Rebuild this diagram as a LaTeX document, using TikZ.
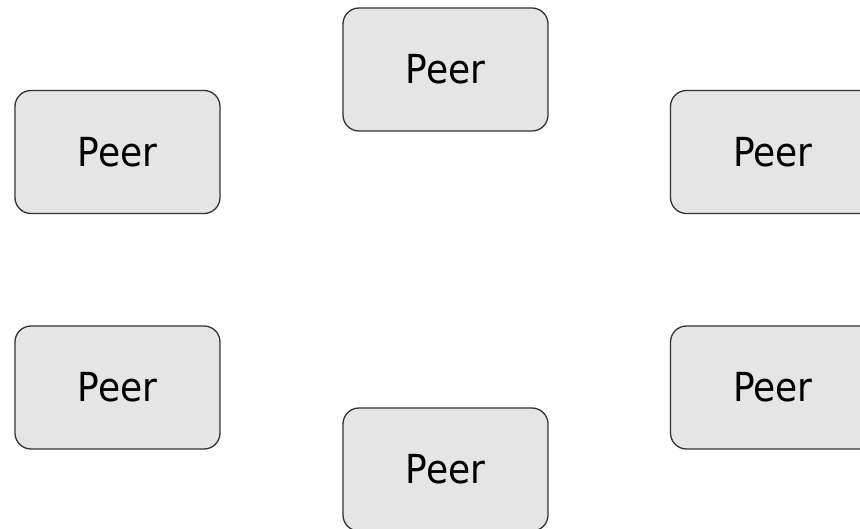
\documentclass[tikz,border=0pt]{standalone}
\usepackage{fontspec}
\setmainfont{DejaVu Sans}[FakeStretch=0.9]
\begin{document}
\begin{tikzpicture}[x=1pt,y=-1pt,
  peer/.style={draw=black!80, line width=1.3pt, fill=black!10,
    rounded corners=16pt, minimum width=205pt, minimum height=123pt,
    inner sep=0pt, font=\fontsize{40}{40}\selectfont}]
  \clip (0,0) rectangle (860,529);
  \useasboundingbox (0,0) rectangle (860,529);
  \node[peer] (top)  at (445.5,69.5)  {Peer};
  \node[peer] (lt)   at (117.5,152)   {Peer};
  \node[peer] (rt)   at (773,152)     {Peer};
  \node[peer] (lb)   at (117.5,387.5) {Peer};
  \node[peer] (rb)   at (773,387.5)   {Peer};
  \node[peer] (bot)  at (445.5,469.5) {Peer};
\end{tikzpicture}
\end{document}
